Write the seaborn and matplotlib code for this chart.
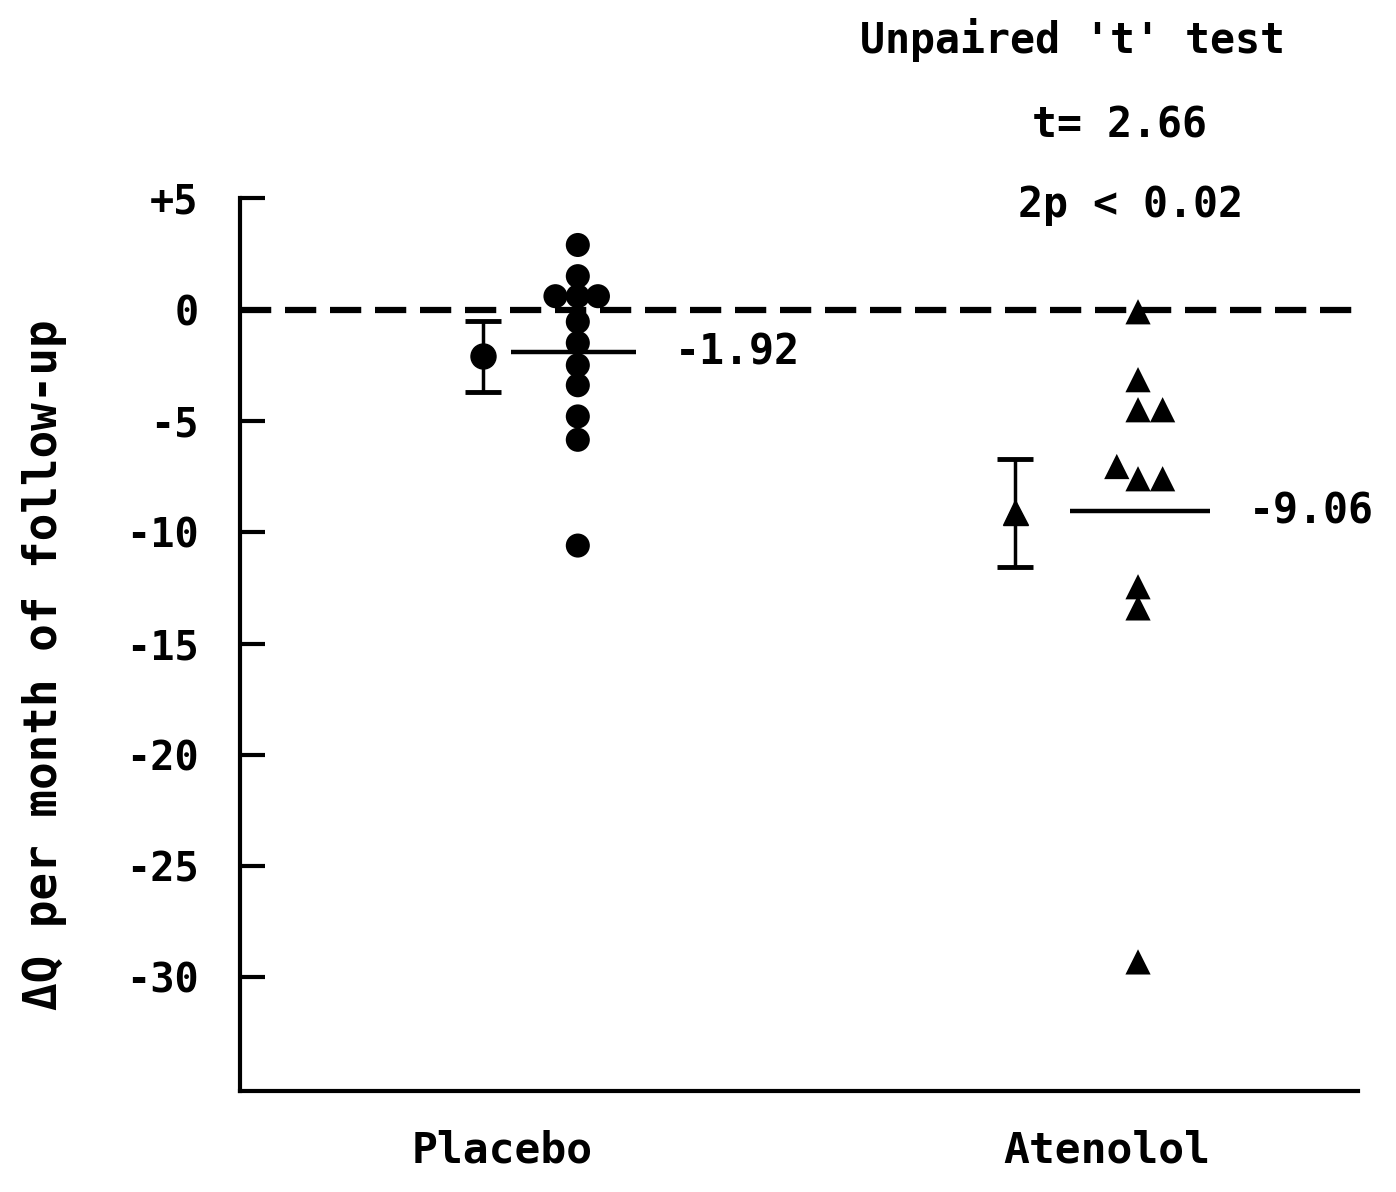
import matplotlib
matplotlib.use("Agg")
import matplotlib.pyplot as plt
import seaborn as sns
import pandas as pd
import numpy as np

# ---- data ----
groups = ["Placebo", "Atenolol"]
group_x = [2.34, 7.75]

placebo_y = [2.9, 1.5, 0.6, 0.6, 0.6, -0.55, -1.5, -2.5, -3.4, -4.8, -5.85, -10.6]
placebo_x = [3.02, 3.02, 2.82, 3.02, 3.2, 3.02, 3.02, 3.02, 3.02, 3.02, 3.02, 3.02]

atenolol_y = [-0.1, -3.15, -4.5, -4.5, -7.05, -7.6, -7.6, -12.45, -13.4, -29.3]
atenolol_x = [8.03, 8.03, 8.03, 8.25, 7.84, 8.03, 8.25, 8.03, 8.03, 8.03]

group_means = [-1.92, -9.06]
mean_labels = ["-1.92", "-9.06"]
sem_center = [-2.1, -9.1]
sem_low = [-3.7, -11.55]
sem_high = [-0.5, -6.7]
sem_x = [2.17, 6.93]
mean_line_x0 = [2.42, 7.42]
mean_line_x1 = [3.54, 8.67]

yticks = [5, 0, -5, -10, -15, -20, -25, -30]
ytick_labels = ["+5", "0", "-5", "-10", "-15", "-20", "-25", "-30"]

stats_lines = ["Unpaired 't' test", "t= 2.66", "2p < 0.02"]

# ---- plot ----
sns.set_style("ticks")
plt.rcParams['font.family'] = ['DejaVu Sans Mono', 'DejaVu Sans']
plt.rcParams['font.weight'] = 'bold'
plt.rcParams['axes.labelweight'] = 'bold'
plt.rcParams['axes.unicode_minus'] = False
plt.rcParams['text.color'] = 'black'
plt.rcParams['axes.labelcolor'] = 'black'
plt.rcParams['xtick.color'] = 'black'
plt.rcParams['ytick.color'] = 'black'
plt.rcParams['axes.edgecolor'] = 'black'

fig = plt.figure(figsize=(13.96, 11.92), dpi=100)
ax = fig.add_axes([0.172, 0.0847, 0.801, 0.749])

df_p = pd.DataFrame({"x": placebo_x, "y": placebo_y})
df_a = pd.DataFrame({"x": atenolol_x, "y": atenolol_y})
sns.scatterplot(data=df_p, x="x", y="y", marker="o", s=300, color="black",
                edgecolor="none", ax=ax, clip_on=False, zorder=3)
sns.scatterplot(data=df_a, x="x", y="y", marker="^", s=330, color="black",
                edgecolor="none", ax=ax, clip_on=False, zorder=3)

# zero reference line
ax.axhline(0, color="black", lw=4.5, ls=(0, (5, 2.2)), zorder=2)

# mean lines
ax.hlines(group_means, mean_line_x0, mean_line_x1, color="black", lw=3.2, zorder=2)
for xe, yv, lab in zip(mean_line_x1, group_means, mean_labels):
    ax.text(xe + 0.35, yv, lab, fontsize=30, va="center", ha="left")

# SEM bars
markers = ["o", "^"]
for i in range(2):
    ax.errorbar([sem_x[i]], [sem_center[i]],
                yerr=[[sem_center[i] - sem_low[i]], [sem_high[i] - sem_center[i]]],
                fmt=markers[i], color="black", ms=18, capsize=13, capthick=3.5,
                elinewidth=2.5, zorder=3)

ax.set_xlim(0, 10)
ax.set_ylim(-35.1, 5)
ax.set_yticks(yticks)
ax.set_yticklabels(ytick_labels)
ax.set_xticks(group_x)
ax.set_xticklabels(groups)
ax.tick_params(axis="y", direction="in", length=18, width=3, labelsize=29, pad=30)
ax.tick_params(axis="x", length=0, labelsize=31, pad=28)
ax.set_xlabel("")
ax.set_ylabel("ΔQ per month of follow-up", fontsize=33)
ax.yaxis.set_label_coords(-0.155, 0.477)
for s in ["top", "right"]:
    ax.spines[s].set_visible(False)
for s in ["left", "bottom"]:
    ax.spines[s].set_linewidth(3)

# stats annotation
fig.text(1073 / 1396, 1 - 40 / 1192, stats_lines[0], fontsize=30, ha="center", va="center")
fig.text(1120 / 1396, 1 - 125 / 1192, stats_lines[1], fontsize=30, ha="center", va="center")
fig.text(1130 / 1396, 1 - 205 / 1192, stats_lines[2], fontsize=30, ha="center", va="center")

fig.savefig("out.png", dpi=100)
